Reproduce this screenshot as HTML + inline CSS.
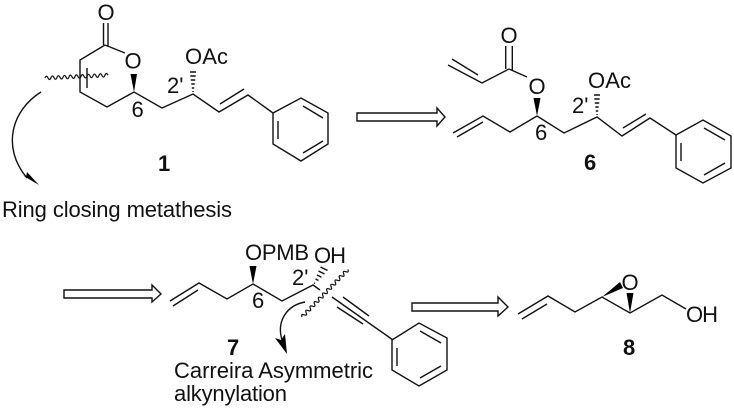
<!DOCTYPE html>
<html><head><meta charset="utf-8"><style>
html,body{margin:0;padding:0;background:#fff}
svg{display:block}
text{font-family:"Liberation Sans",sans-serif;font-size:22px;fill:#111}
.b{font-weight:bold}
.l{fill:none;stroke:#111;stroke-width:1.4}
.a{fill:#fff;stroke:#111;stroke-width:1.4}
.w{fill:none;stroke:#111;stroke-width:1.2}
.f{fill:#000}
</style></head><body>
<svg width="734" height="409" viewBox="0 0 734 409" xmlns="http://www.w3.org/2000/svg">
<!-- compound 1 -->
<path class="l" d="M103.5 23V45M108 23V47M105 45L80 60V92L107 107L134 92L162 108L193 94L219 112L248 95L273 113M105 45L125 53M87 68V88M220 104L244 89"/>
<path class="l" d="M273 113L301 98L328 113V144L301 161L273 144ZM278 121V139M303 106L323 118M303 153L323 141"/>
<path class="f" d="M134 92L130.5 74H137Z"/>
<path class="l" d="M193 92v-1M191.8 88h2.4M191.3 84h3.4M190.8 80h4.4M190.3 76h5.4M190 72h6"/>
<path class="w" transform="translate(45 78) rotate(-2.6)" d="M0 0q1.5 -3.4 3 0t3 0t3 0t3 0t3 0t3 0t3 0t3 0t3 0t3 0t3 0t3 0t3 0t3 0t3 0t3 0t3 0t3 0t3 0t3 0t3 0"/>
<path class="l" d="M41 92C12 110 1 147 27 178"/>
<path class="f" d="M39 185L22 175L26 177L27 172Z"/>
<text x="97.5" y="20">O</text><text x="124.5" y="68.5">O</text>
<text x="185" y="64" textLength="43">OAc</text>
<text x="167" y="93">2'</text><text x="131.5" y="117">6</text>
<text class="b" x="158" y="171">1</text>
<text x="2" y="217" textLength="230">Ring closing metathesis</text>
<!-- arrow 1 -->
<path class="a" d="M357 113H437V108L445 117L437 126V121H357Z"/>
<!-- compound 6 -->
<path class="l" d="M505.7 46V69M512.3 46V71M509 69L482 83L448 65M478 75L452 59M509 69L527 77M537 116L510 132L483 116L453 133M457 137L483 122M537 116L564 133L597 117L622 136L650 118L676 135M623 128L646 114"/>
<path class="l" d="M676 135L703 120L731 136V168L703 183L676 168ZM681 143V161M704 128L725 140M704 175L725 163"/>
<path class="f" d="M537 116L533.5 98H540.5Z"/>
<path class="l" d="M597 115v-1M595.8 111h2.4M595.3 107h3.4M594.8 103h4.4M594.3 99h5.4M594 95h6"/>
<text x="500.5" y="43">O</text><text x="528.5" y="94">O</text>
<text x="588" y="88" textLength="43">OAc</text>
<text x="572" y="113">2'</text><text x="535" y="140">6</text>
<text class="b" x="584" y="170">6</text>
<!-- arrow 2 -->
<path class="a" d="M64 290H152V285L161 294L152 302V298H64Z"/>
<!-- compound 7 -->
<path class="l" d="M170 301L199 283L227 299L253 284L282 301L313 285L320 290M173 306L198 290M332 297L393 340M343 297L369 316M337 307L363 324"/>
<path class="l" d="M392 340L419 323L447 338V370L419 386L392 370ZM397 348V366M420 331L441 343M420 378L441 366"/>
<path class="f" d="M253 284L249.5 266H256.5Z"/>
<path class="l" d="M314 283l1 .5M315.5 279l3 1.5M317 275l4.5 2.2M318.5 271l6 3M320.5 267l7 3.5"/>
<path class="w" transform="translate(302 317) rotate(-46)" d="M0 0q1.5 -3.4 3 0t3 0t3 0t3 0t3 0t3 0t3 0t3 0t3 0t3 0t3 0t3 0t3 0t3 0t3 0t3 0t3 0t3 0t3 0t3 0t3 0t3 0"/>
<path class="l" d="M305 302C288 305 276 320 282 340"/>
<path class="f" d="M287 354L275 338L281 340L285 334Z"/>
<text x="245" y="260" textLength="64">OPMB</text>
<text x="314" y="263" textLength="32">OH</text>
<text x="292" y="285">2'</text><text x="252" y="308">6</text>
<text class="b" x="227" y="355">7</text>
<text x="174" y="378" textLength="199">Carreira Asymmetric</text>
<text x="174" y="401" textLength="113">alkynylation</text>
<!-- arrow 3 -->
<path class="a" d="M412 303H498V297L508 307L498 316V311H412Z"/>
<!-- compound 8 -->
<path class="l" d="M518 314L548 296L575 312L602 297L630 313L662 295L686 309M522 319L547 304"/>
<path class="f" d="M602 297L620 282L623 288Z"/>
<path class="f" d="M630 313L626.5 293H633.5Z"/>
<text x="621.5" y="290">O</text>
<text x="686" y="322" textLength="32">OH</text>
<text class="b" x="623" y="355">8</text>
</svg>
</body></html>
